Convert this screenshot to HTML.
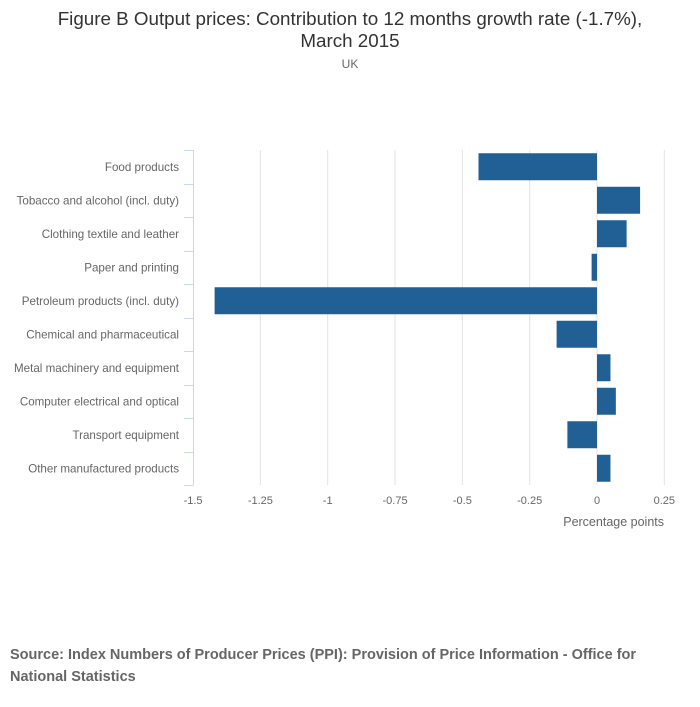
<!DOCTYPE html>
<html><head><meta charset="utf-8"><style>
body{margin:0;background:#fff;font-family:"Liberation Sans",sans-serif;}
#wrap{position:relative;width:700px;height:707px;}
.t{position:absolute;left:0;width:700px;text-align:center;color:#333;}
</style></head><body>
<div id="wrap">
<div class="t" style="top:8px;font-size:18.8px;line-height:22px;">Figure B Output prices: Contribution to 12 months growth rate (-1.7%),<br>March 2015</div>
<div class="t" style="top:57px;font-size:12px;color:#666;">UK</div>
<svg id="chart" width="700" height="600" style="position:absolute;left:0;top:0"></svg>
<div style="position:absolute;left:10px;top:644px;width:680px;font-size:14.5px;font-weight:bold;color:#666;line-height:22px;">Source: Index Numbers of Producer Prices (PPI): Provision of Price Information - Office for<br>National Statistics</div>
</div>
<script>
const categories=["Food products","Tobacco and alcohol (incl. duty)","Clothing textile and leather","Paper and printing","Petroleum products (incl. duty)","Chemical and pharmaceutical","Metal machinery and equipment","Computer electrical and optical","Transport equipment","Other manufactured products"];
const values=[-0.44,0.16,0.11,-0.02,-1.42,-0.15,0.05,0.07,-0.11,0.05];
const ticks=[-1.5,-1.25,-1,-0.75,-0.5,-0.25,0,0.25];
const tickLabels=["-1.5","-1.25","-1","-0.75","-0.5","-0.25","0","0.25"];
const svg=document.getElementById('chart');const NS='http://www.w3.org/2000/svg';
const top0=150,bot=485,x0=597,unit=269.3;
const xs=v=>x0+v*unit;
const rowH=(bot-top0)/categories.length;
function mk(t,a,p){const e=document.createElementNS(NS,t);for(const k in a)e.setAttribute(k,a[k]);(p||svg).appendChild(e);return e;}
ticks.forEach((v,i)=>{
 if(v>-1.5){const g=mk('line',{x1:xs(v),x2:xs(v),y1:top0,y2:bot,stroke:'#e3e3e3','stroke-width':1});
 
 }
 const t=mk('text',{x:xs(v),y:504,'text-anchor':'middle','font-size':11,fill:'#666','font-family':'Liberation Sans, sans-serif'});t.textContent=tickLabels[i];
 
 
});
const ax=mk('line',{x1:193.5,x2:193.5,y1:top0,y2:bot,stroke:'#ccd6eb','stroke-width':1});


for(let i=0;i<=categories.length;i++){const y=Math.round(top0+i*rowH)+0.5;const tk=mk('line',{x1:184,x2:193.5,y1:y,y2:y,stroke:'#ccd6eb'});
 
 }
categories.forEach((c,i)=>{
 const yc=top0+(i+0.5)*rowH;
 const t=mk('text',{x:179,y:yc+4,'text-anchor':'end','font-size':11.6,fill:'#666','font-family':'Liberation Sans, sans-serif'});t.textContent=c;
 
 
 const v=values[i];const x1=Math.min(xs(v),xs(0)),w=Math.abs(xs(v)-xs(0));
 const b=mk('rect',{x:x1,y:yc-13.5,width:w,height:27,fill:'#206095'});
 
 
});
const xt=mk('text',{x:664,y:526,'text-anchor':'end','font-size':12.5,fill:'#666','font-family':'Liberation Sans, sans-serif'});xt.textContent='Percentage points';


</script>
</body></html>
